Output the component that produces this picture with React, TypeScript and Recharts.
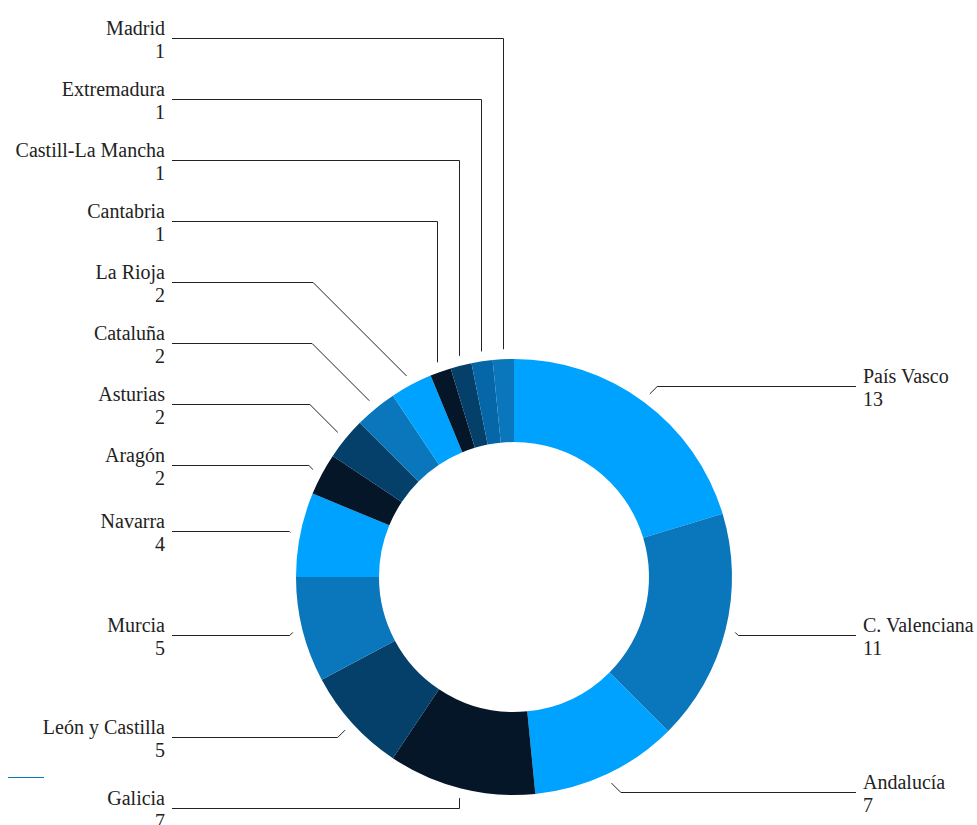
import { PieChart, Pie, Cell } from "recharts";

const regions = [
  "País Vasco",
  "C. Valenciana",
  "Andalucía",
  "Galicia",
  "León y Castilla",
  "Murcia",
  "Navarra",
  "Aragón",
  "Asturias",
  "Cataluña",
  "La Rioja",
  "Cantabria",
  "Castill-La Mancha",
  "Extremadura",
  "Madrid",
];
const counts = [13, 11, 7, 7, 5, 5, 4, 2, 2, 2, 2, 1, 1, 1, 1];

const LIGHT = "#00a2ff";
const MID = "#0a77bd";
const NAVY = "#051628";
const DARK = "#05406b";
const STEEL = "#0566a8";
const sliceColors = [LIGHT, MID, LIGHT, NAVY, DARK, MID, LIGHT, NAVY, DARK, MID, LIGHT, NAVY, DARK, STEEL, MID];

const W = 977;
const H = 825;
const CX = 514;
const CY = 577;
const RAD = Math.PI / 180;
const FONT = "serif";

const data = regions.map((name, i) => ({ name, value: counts[i] }));

// label y positions: natural spot outside the ring, then pushed up on the left so they don't overlap
function layoutLabels(): number[] {
  const total = counts.reduce((a, b) => a + b, 0);
  let acc = 0;
  const items = counts.map((v, i) => {
    const mid = 90 - ((acc + v / 2) / total) * 360;
    acc += v;
    return { i, right: Math.cos(mid * RAD) >= 0, y: CY - 238 * Math.sin(mid * RAD) };
  });
  const left = items.filter((d) => !d.right).sort((a, b) => b.y - a.y);
  for (let k = 1; k < left.length; k++) {
    left[k].y = Math.min(left[k].y, left[k - 1].y - 61);
  }
  const ys: number[] = [];
  items.forEach((d) => (ys[d.i] = Math.round(d.y) + 0.5));
  return ys;
}

const labelY = layoutLabels();

const renderLabel = (props: any) => {
  const { cx, cy, midAngle, outerRadius, index } = props;
  const c = Math.cos(-midAngle * RAD);
  const s = Math.sin(-midAngle * RAD);
  const ly = labelY[index];
  const vertical = Math.abs(c) < 0.38;
  const ex = vertical ? Math.round(cx + (outerRadius + 10) * c) + 0.5 : cx + (outerRadius + 10) * c;
  const ey = cy + (outerRadius + 10) * s;
  const dir = c >= 0 ? 1 : -1;
  const bx = vertical ? ex : ex + dir * Math.abs(ly - ey);
  const lane = cx + dir * 342;
  const tx = cx + dir * 349;
  const anchor = dir > 0 ? "start" : "end";
  return (
    <g>
      <path
        d={`M${ex},${ey}L${bx},${ly}L${lane},${ly}`}
        fill="none"
        stroke="#222"
        strokeWidth={1}
      />
      <text x={tx} y={ly - 3.5} textAnchor={anchor} fontFamily={FONT} fontSize={20} fill="#222">
        {regions[index]}
      </text>
      <text x={tx} y={ly + 19} textAnchor={anchor} fontFamily={FONT} fontSize={20} fill="#222">
        {counts[index]}
      </text>
    </g>
  );
};

export default function App() {
  return (
    <div style={{ position: "absolute", left: 0, top: 0, width: W, height: H, background: "#fff" }}>
      <PieChart width={W} height={H} margin={{ top: 0, right: 0, bottom: 0, left: 0 }}>
        <Pie
          data={data}
          dataKey="value"
          nameKey="name"
          cx={CX}
          cy={CY}
          innerRadius={135}
          outerRadius={218}
          startAngle={90}
          endAngle={-270}
          stroke="none"
          label={renderLabel}
          labelLine={false}
          isAnimationActive={false}
        >
          {data.map((d, i) => (
            <Cell key={d.name} fill={sliceColors[i]} />
          ))}
        </Pie>
      </PieChart>
      <div
        style={{
          position: "absolute",
          left: 8,
          top: 777,
          width: 36,
          height: 0,
          borderTop: `1px solid ${MID}`,
        }}
      />
    </div>
  );
}
